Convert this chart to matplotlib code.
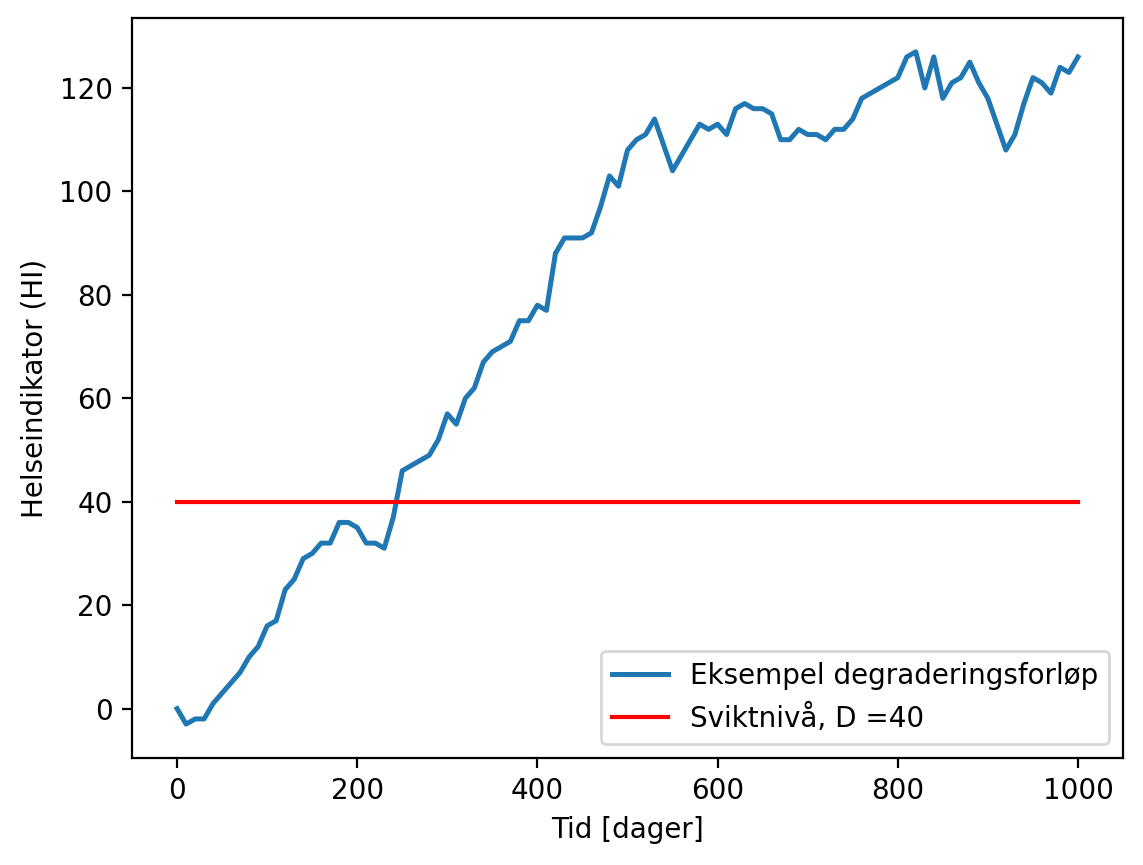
import matplotlib
matplotlib.use('Agg')
import matplotlib.pyplot as plt

# Health indicator, every 10 days
days = list(range(0, 1001, 10))
hi = [0, -3, -2, -2, 1, 3, 5, 7, 10, 12,
      16, 17, 23, 25, 29, 30, 32, 32, 36, 36,
      35, 32, 32, 31, 37, 46, 47, 48, 49, 52,
      57, 55, 60, 62, 67, 69, 70, 71, 75, 75,
      78, 77, 88, 91, 91, 91, 92, 97, 103, 101,
      108, 110, 111, 114, 109, 104, 107, 110, 113, 112,
      113, 111, 116, 117, 116, 116, 115, 110, 110, 112,
      111, 111, 110, 112, 112, 114, 118, 119, 120, 121,
      122, 126, 127, 120, 126, 118, 121, 122, 125, 121,
      118, 113, 108, 111, 117, 122, 121, 119, 124, 123, 126]
D = 40

fig = plt.figure(figsize=(5.715, 4.325), dpi=200)
plt.plot(days, hi, lw=1.8, label='Eksempel degraderingsforløp')
plt.plot([0, 1000], [D, D], color='red', label=f'Sviktnivå, D ={D}')
plt.xlabel('Tid [dager]')
plt.ylabel('Helseindikator (HI)')
plt.legend(loc='lower right')
plt.subplots_adjust(left=0.1155, right=0.9825, top=0.979, bottom=0.124)
plt.savefig('out.png')
